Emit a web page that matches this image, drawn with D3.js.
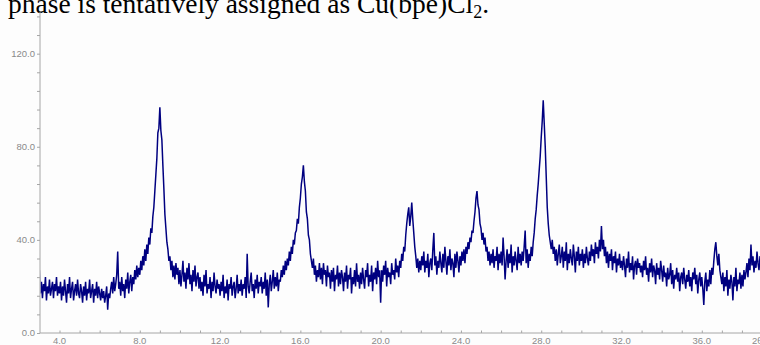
<!DOCTYPE html>
<html>
<head>
<meta charset="utf-8">
<script src="https://cdn.jsdelivr.net/npm/d3@7"></script>
<style>
  html, body { margin: 0; padding: 0; background: #fdfdfd; }
  svg { display: block; }
</style>
</head>
<body>
<svg id="chart" width="760" height="345"></svg>
<script>
// ---- data ----
const captionText = "phase is tentatively assigned as Cu(bpe)Cl";
const xTickValues = [4, 8, 12, 16, 20, 24, 28, 32, 36];
const yTickValues = [0, 40, 80, 120];
const xAxisTitle = "2θ";
const twoThetaStart = 3.0;
const twoThetaStep = 0.05;
// intensity (counts), one row per degree 2θ (3.00 ... 38.95)
const intensity = [
  27,17,22,15,21,18,24,14,20,17,23,16,19,22,15,21,18,24,16,20,
  17,22,14,20,16,23,18,13,21,17,24,15,19,22,14,18,21,16,23,17,
  15,21,18,13,20,16,22,14,19,17,23,15,18,21,13,19,16,22,15,20,
  17,14,19,15,18,13,16,20,10,17,15,19,22,17,24,18,21,25,35,19,
  22,16,24,18,21,15,23,19,26,17,22,25,18,24,21,27,23,29,24,28,
  25,31,27,33,29,36,31,38,34,41,38,45,43,50,54,61,68,75,86,88,
  97,87,83,72,62,51,45,39,36,31,33,27,31,24,29,23,30,25,28,21,
  27,20,25,31,22,26,19,28,23,30,21,25,18,27,22,29,20,24,26,19,
  24,18,22,16,25,20,27,17,21,19,24,15,22,18,26,20,17,23,19,21,
  16,22,18,25,15,20,17,23,14,21,19,24,16,20,22,15,19,25,17,21,
  18,23,16,21,19,24,15,34,20,17,22,26,18,21,15,23,19,25,17,22,
  20,24,17,22,19,26,16,23,11,21,25,18,22,27,19,24,20,26,18,23,
  22,27,24,29,25,31,27,32,29,35,31,37,34,40,38,43,44,49,47,54,
  58,64,67,72,65,61,52,49,42,40,34,31,28,32,25,29,22,27,24,30,
  23,28,21,30,25,27,20,29,24,26,19,27,22,28,18,25,23,29,20,26,
  21,27,24,18,26,22,29,19,25,23,28,17,24,21,27,20,30,22,25,19,
  26,21,28,23,19,27,24,30,20,25,22,29,18,26,23,28,21,31,24,27,
  13,27,22,29,25,31,20,28,24,26,21,30,25,27,23,32,26,29,24,31,
  28,34,31,37,35,42,47,51,54,46,50,56,49,43,37,33,28,32,26,31,
  27,33,29,35,26,31,28,34,24,30,32,27,36,43,29,33,25,31,28,35,
  30,26,34,28,37,31,25,33,29,36,27,32,30,24,34,28,35,31,26,33,
  29,35,31,36,30,37,34,39,36,41,39,44,43,48,52,58,61,55,53,47,
  45,40,43,38,41,35,37,31,35,29,34,30,36,28,33,31,37,27,34,30,
  35,29,41,33,23,31,36,28,34,30,38,26,33,29,35,31,27,37,30,34,
  29,35,31,37,44,30,36,28,34,31,37,33,39,43,49,53,59,64,70,76,
  84,91,100,90,80,67,54,47,42,39,36,40,34,37,31,36,29,34,38,30,
  33,37,28,35,31,39,27,34,30,36,32,29,38,33,26,35,31,37,29,34,
  31,36,28,34,30,37,32,29,35,31,38,33,36,30,39,34,37,32,40,35,
  46,36,40,33,37,30,35,28,34,31,36,27,33,30,35,26,32,29,34,28,
  31,27,33,29,24,32,28,35,26,30,27,33,23,29,31,25,32,28,30,26,
  29,24,31,27,33,25,28,22,30,26,32,24,29,27,21,30,25,28,23,31,
  27,22,29,24,26,20,28,23,25,30,21,27,19,25,23,28,22,26,18,24,
  26,21,28,23,19,25,22,27,20,24,18,26,23,28,21,25,17,23,26,20,
  24,19,12,22,26,18,23,20,27,21,28,25,31,36,39,33,29,34,27,24,
  21,26,18,24,20,27,16,23,19,25,22,14,24,20,28,18,23,21,26,19,
  25,20,27,23,26,30,24,32,27,38,29,33,26,31,28,35,30,27,33,29
];

// ---- layout ----
const svg = d3.select("#chart");
const plot = { left: 40, right: 760, top: 12, bottom: 333 };

const x = d3.scaleLinear().domain([3.028, 38.9]).range([plot.left, plot.right]);
const y = d3.scaleLinear().domain([0, 137.9]).range([plot.bottom, plot.top]);

const axisColor = "#a6a6a6";
const labelColor = "#8a8a8a";
const labelFont = "'Liberation Sans', Arial, sans-serif";

// caption text (cut from the document above the figure)
const cap = svg.append("text")
  .attr("x", 8).attr("y", 13)
  .attr("font-family", "'Liberation Serif', 'Times New Roman', serif")
  .attr("font-size", 27.5)
  .attr("fill", "#000");
cap.append("tspan").text(captionText);
cap.append("tspan").attr("font-size", 18).attr("dy", 5).text("2");
cap.append("tspan").attr("dy", -5).text(".");

// clip
svg.append("clipPath").attr("id", "plotclip")
  .append("rect")
  .attr("x", plot.left + 0.5).attr("y", plot.top)
  .attr("width", plot.right - plot.left).attr("height", plot.bottom - plot.top);

// data line
const pts = intensity.map((v, i) => [twoThetaStart + i * twoThetaStep, v]);
const line = d3.line().x(d => x(d[0])).y(d => y(d[1]));
svg.append("path")
  .datum(pts)
  .attr("clip-path", "url(#plotclip)")
  .attr("fill", "none")
  .attr("stroke", "#000080")
  .attr("stroke-width", 1.5)
  .attr("stroke-linejoin", "miter")
  .attr("stroke-miterlimit", 2)
  .attr("d", line);

// y axis
const yAxisG = svg.append("g").attr("transform", `translate(${plot.left},0)`);
yAxisG.call(d3.axisLeft(y).tickValues(d3.range(0, 137, 8)).tickSize(3).tickFormat(() => ""));
yAxisG.select(".domain").attr("stroke", axisColor).attr("d", `M0,${plot.top}V${plot.bottom}`);
yAxisG.selectAll(".tick line").attr("stroke", axisColor);
yAxisG.selectAll(".tick text").remove();
svg.append("g").selectAll("text")
  .data(yTickValues)
  .join("text")
  .attr("x", 35)
  .attr("y", d => y(d))
  .attr("dy", "0.35em")
  .attr("text-anchor", "end")
  .attr("font-family", labelFont)
  .attr("font-size", 9.5)
  .attr("fill", labelColor)
  .text(d => d3.format(".1f")(d));

// x axis
const xAxisG = svg.append("g").attr("transform", `translate(0,${plot.bottom})`);
xAxisG.call(d3.axisTop(x).tickValues(d3.range(4, 39, 1)).tickSize(2.5).tickFormat(() => ""));
xAxisG.select(".domain").attr("stroke", axisColor).attr("d", `M${plot.left},0H${plot.right}`);
xAxisG.selectAll(".tick line").attr("stroke", axisColor);
xAxisG.selectAll(".tick text").remove();
svg.append("g").selectAll("text")
  .data(xTickValues)
  .join("text")
  .attr("x", d => x(d))
  .attr("y", 344)
  .attr("text-anchor", "middle")
  .attr("font-family", labelFont)
  .attr("font-size", 9.5)
  .attr("fill", labelColor)
  .text(d => d3.format(".1f")(d));

svg.append("text")
  .attr("x", 752).attr("y", 344)
  .attr("font-family", labelFont)
  .attr("font-size", 9.5)
  .attr("fill", labelColor)
  .text(xAxisTitle);
</script>
</body>
</html>
